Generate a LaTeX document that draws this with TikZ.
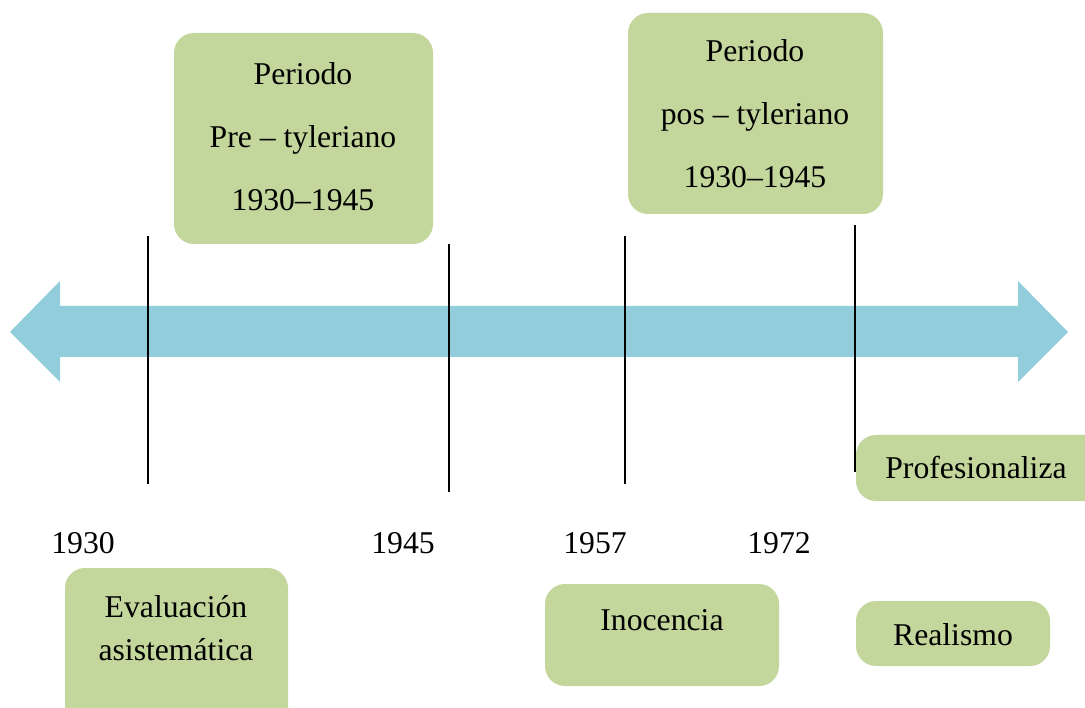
\documentclass[tikz,border=0pt]{standalone}
\usepackage{fontspec}
\setmainfont{Liberation Serif}
\definecolor{arrowblue}{HTML}{92CDDC}
\definecolor{boxgreen}{HTML}{C3D69B}
\tikzset{
  gbox/.style={fill=boxgreen, draw=none, rounded corners=20pt, inner sep=0pt},
  lbl/.style={anchor=base, inner sep=0pt, font=\fontsize{31.7}{38}\selectfont},
  tick/.style={draw=black, line width=1.3pt},
}
\begin{document}
\begin{tikzpicture}[x=1pt,y=-1pt]
\useasboundingbox (0,0) rectangle (1085,708);
\clip (0,0) rectangle (1085,708);
% arrow
\fill[arrowblue] (10,332) -- (60,281) -- (60,306) -- (1018,306) -- (1018,281) -- (1068,332) -- (1018,382) -- (1018,357) -- (60,357) -- (60,382) -- cycle;
% ticks
\coordinate (t1a) at (148,236); \coordinate (t1b) at (148,484);
\coordinate (t2a) at (449,244); \coordinate (t2b) at (449,492);
\coordinate (t3a) at (625,236); \coordinate (t3b) at (625,484);
\coordinate (t4a) at (855,225); \coordinate (t4b) at (855,472);
\draw[tick] (t1a) -- (t1b);
\draw[tick] (t2a) -- (t2b);
\draw[tick] (t3a) -- (t3b);
\draw[tick] (t4a) -- (t4b);
% boxes
\node[gbox, minimum width=259pt, minimum height=211pt] (pre) at (303.5,138.5) {};
\node[gbox, minimum width=255pt, minimum height=201pt] (pos) at (755.5,113.5) {};
\node[gbox, minimum width=250pt, minimum height=66pt] (prof) at (981,468) {};
\node[gbox, minimum width=223pt, minimum height=160pt] (eva) at (176.5,648) {};
\node[gbox, minimum width=234pt, minimum height=102pt] (ino) at (662,635) {};
\node[gbox, minimum width=194pt, minimum height=65pt] (rea) at (953,633.5) {};
% texts
\node[lbl] (pre1) at (303,85) {Periodo};
\node[lbl] (pre2) at (303,148) {Pre -- tyleriano};
\node[lbl] (pre3) at (303,211) {1930--1945};
\node[lbl] (pos1) at (755,62) {Periodo};
\node[lbl] (pos2) at (755,125) {pos -- tyleriano};
\node[lbl] (pos3) at (755,188) {1930--1945};
\node[lbl] (proft) at (976,479) {Profesionaliza};
\node[lbl] (eva1) at (176,617) {Evaluación};
\node[lbl] (eva2) at (176,660) {asistemática};
\node[lbl] (inot) at (662,630) {Inocencia};
\node[lbl] (reat) at (953,645) {Realismo};
\node[lbl] (y1) at (83,553) {1930};
\node[lbl] (y2) at (403,553) {1945};
\node[lbl] (y3) at (595,553) {1957};
\node[lbl] (y4) at (779,553) {1972};
\end{tikzpicture}
\end{document}
